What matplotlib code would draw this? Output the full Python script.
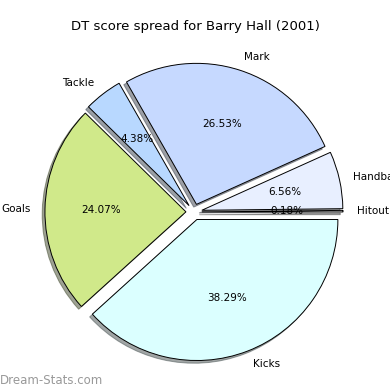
import matplotlib
matplotlib.use('Agg')
import matplotlib.pyplot as plt

# counter-clockwise from 3 o'clock
labels = ['Hitout', 'Handball', 'Mark', 'Tackle', 'Goals', 'Kicks']
shares = [0.18, 6.56, 26.53, 4.38, 24.07, 38.29]
colors = ['#eeeeee', '#e8efff', '#c6d9ff', '#b8d8ff', '#d0e98a', '#dbffff']

fig = plt.figure(figsize=(3.9, 3.9), dpi=100)
lim = 1.3
ax = fig.add_axes([0.0274, -0.0136, 0.94, 0.94])

wedges, texts, autotexts = ax.pie(shares, labels=labels, colors=colors,
                                  explode=[0.057] * len(shares),
                                  autopct='%.2f%%', startangle=0,
                                  shadow=dict(ox=-0.014, oy=-0.014,
                                              label='_nolegend_'),
                                  labeldistance=1.1, pctdistance=0.6,
                                  wedgeprops=dict(edgecolor='black', linewidth=0.7),
                                  textprops=dict(fontsize=7.5))
for t in texts:
    t.set_clip_on(False)
ax.set_xlim(-lim, lim)
ax.set_ylim(-lim, lim)
ax.set_aspect('equal')
ax.axis('off')

fig.text(0.5, 0.933, 'DT score spread for Barry Hall (2001)',
         ha='center', va='center', fontsize=9.5)
fig.text(0.0, 0.025, 'Dream-Stats.com', ha='left', va='center',
         fontsize=8.5, color='#999999')

fig.savefig('out.png', dpi=100)
